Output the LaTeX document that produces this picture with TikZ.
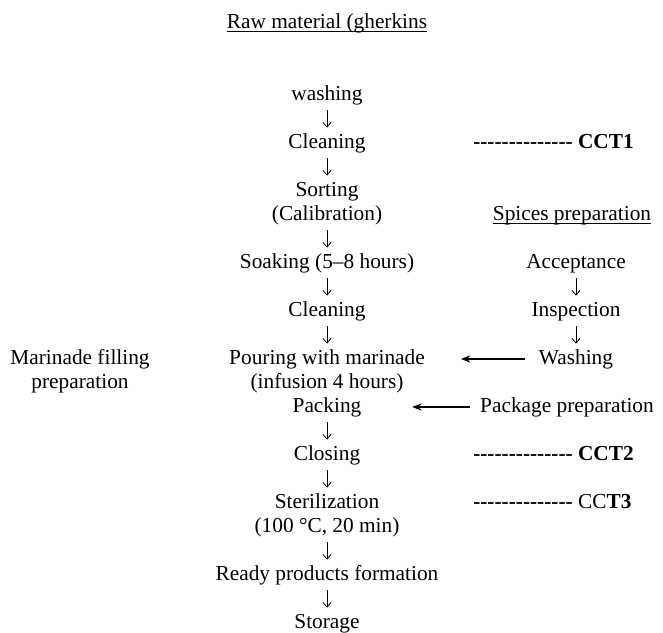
\documentclass[tikz,border=0pt]{standalone}
\usepackage{fontspec}
\setmainfont{Liberation Serif}
\usetikzlibrary{arrows.meta}

\tikzset{
    stage/.style={font=\fontsize{16}{18}\selectfont, align=center, inner sep=0pt,
        text height=11pt, text depth=3.5pt},
    twoline/.style={text height=29pt},
    flow/.style={line width=0.6pt, -{Straight Barb[length=3.5pt,width=6pt]},
        shorten <=4pt, shorten >=4pt},
    feed/.style={line width=0.8pt, -{Stealth[length=7pt,width=5.5pt]}},
    uline/.style={line width=1.1pt}
}
\newcommand{\dashrun}{\textbf{\foreach \i in {1,...,14}{-\kern0pt}}}

\begin{document}
\begin{tikzpicture}[x=0.75pt, y=-0.75pt]
    \def\mainx{327}
    \def\sidex{576}
    \useasboundingbox (0,0) rectangle (663,632);

    % Raw material
    \node[stage] (raw) at (\mainx,23) {Raw material (gherkins};
    \draw[uline] ([yshift=-2.5pt]raw.base west) -- ([yshift=-2.5pt]raw.base east);

    % Main line
    \node[stage] (washing) at (\mainx,95) {washing};
    \node[stage] (cleanA) at (\mainx,143) {Cleaning};
    \node[stage,twoline] (sorting) at (\mainx,203) {Sorting\\(Calibration)};
    \node[stage] (soaking) at (\mainx,263) {Soaking (5–8 hours)};
    \node[stage] (cleanB) at (\mainx,311) {Cleaning};
    \node[stage,twoline] (pouring) at (\mainx,371) {Pouring with marinade\\(infusion 4 hours)};
    \node[stage] (packing) at (\mainx,407) {Packing};
    \node[stage] (closing) at (\mainx,455) {Closing};
    \node[stage,twoline] (steril) at (\mainx,515) {Sterilization\\(100 °C, 20 min)};
    \node[stage] (ready) at (\mainx,575) {Ready products formation};
    \node[stage] (storage) at (\mainx,623) {Storage};

    % Control points
    \node[stage,anchor=west] (cct1) at (473,143) {\dashrun\ \textbf{CCT1}};
    \node[stage,anchor=west] (cct2) at (473,455) {\dashrun\ \textbf{CCT2}};
    \node[stage,anchor=west] (cct3) at (473,503) {\dashrun\ CC\textbf{T3}};

    % Side preparations
    \node[stage] (spices) at (572,215) {Spices preparation};
    \draw[uline] ([yshift=-2.5pt]spices.base west) -- ([yshift=-2.5pt]spices.base east);
    \node[stage] (accept) at (\sidex,263) {Acceptance};
    \node[stage] (inspect) at (\sidex,311) {Inspection};
    \node[stage] (washR) at (\sidex,359) {Washing};
    \node[stage] (package) at (567,407) {Package preparation};
    \node[stage,twoline] (marinade) at (80,371) {Marinade filling\\preparation};

    \foreach \a/\b in {washing/cleanA, cleanA/sorting, sorting/soaking, soaking/cleanB,
        cleanB/pouring, packing/closing, closing/steril, steril/ready, ready/storage,
        accept/inspect, inspect/washR} {
        \draw[flow] (\a) -- (\b);
    }

    \draw[feed, shorten <=10pt, shorten >=27pt] (washR.west) -- (washR.west -| pouring.east);
    \draw[feed, shorten <=7.5pt, shorten >=38pt] (package.west) -- (packing.east);
\end{tikzpicture}
\end{document}
